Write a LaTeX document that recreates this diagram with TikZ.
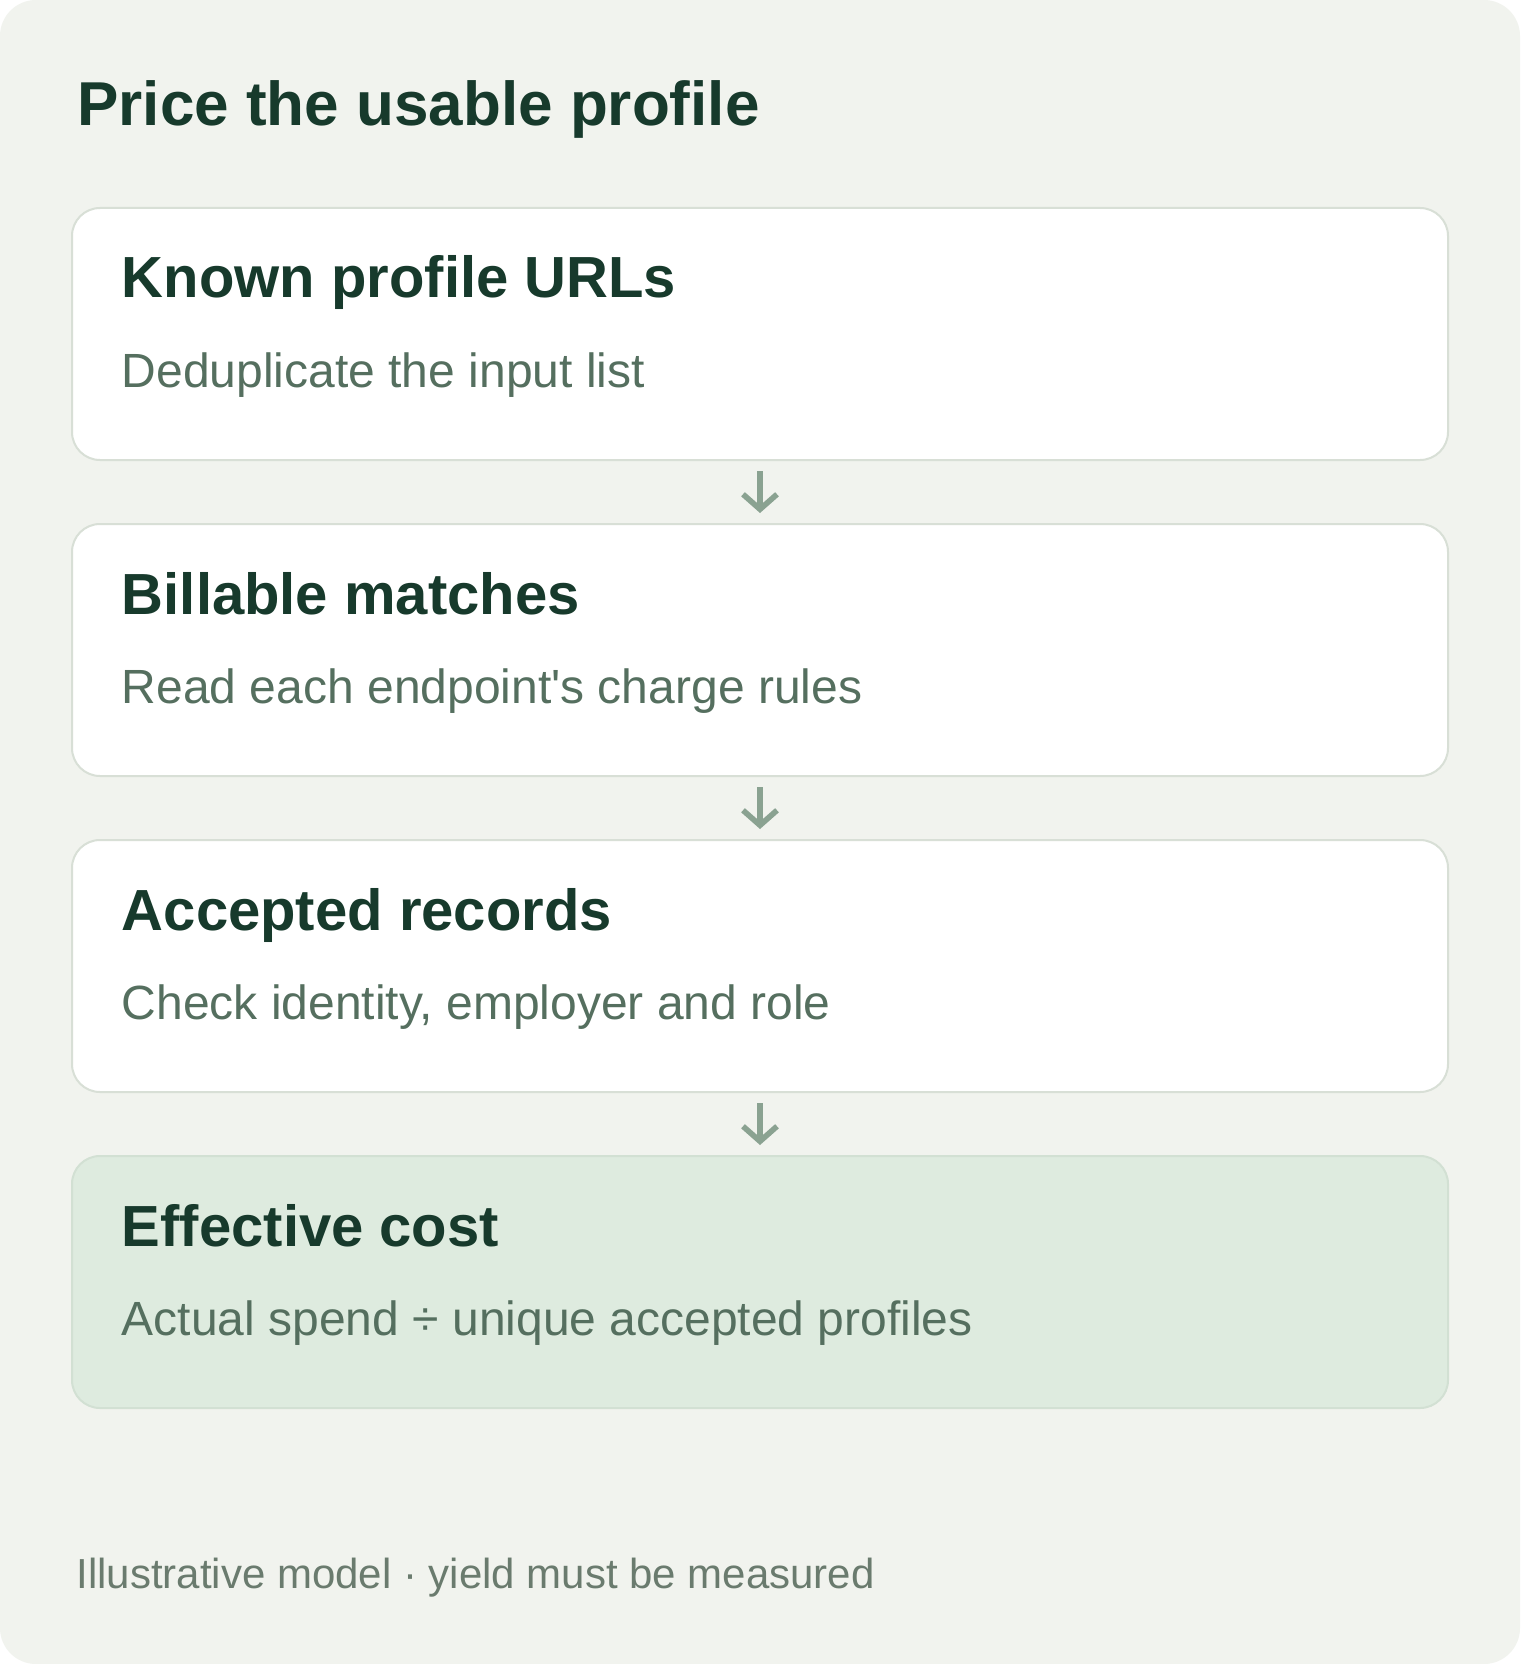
\documentclass[tikz,border=0pt]{standalone}
\usepackage{fontspec}
\setmainfont{Liberation Sans}
\usetikzlibrary{arrows.meta}

\definecolor{pagebg}{HTML}{F1F3EE}
\definecolor{ink}{HTML}{173A2C}
\definecolor{muted}{HTML}{556F5F}
\definecolor{footgray}{HTML}{6A7B6E}
\definecolor{edgegray}{HTML}{D8DFD6}
\definecolor{arrowgray}{HTML}{8AA291}
\definecolor{costfill}{HTML}{DEEBDF}
\definecolor{costedge}{HTML}{D2E0D3}

\tikzset{
  stepbox/.style={draw=edgegray, line width=1pt, fill=white, rounded corners=14pt,
    minimum width=688pt, minimum height=126pt, inner sep=0pt},
  costbox/.style={stepbox, draw=costedge, fill=costfill},
  head/.style={anchor=base west, inner sep=0pt, text=ink,
    font=\fontsize{29pt}{34pt}\selectfont\bfseries},
  desc/.style={anchor=base west, inner sep=0pt, text=muted,
    font=\fontsize{24pt}{29pt}\selectfont}
}

\begin{document}
\begin{tikzpicture}[x=0.5pt, y=-0.5pt]

        \fill[white] (0,0) rectangle (1520,1664);
        \fill[pagebg, rounded corners=18pt] (0,0) rectangle (1520,1664);
        \useasboundingbox (0,0) rectangle (1520,1664);

        \node[anchor=base west, inner sep=0pt, text=ink,
          font=\fontsize{31pt}{36pt}\selectfont\bfseries] (title) at (77,126) {Price the usable profile};

        \node[stepbox] (1) at (760,334)  {};
        \node[stepbox] (2) at (760,650)  {};
        \node[stepbox] (3) at (760,966)  {};
        \node[costbox] (4) at (760,1282) {};

        \node[head] (h1) at (121.5,298)  {Known profile URLs};
        \node[desc] (d1) at (121.5,387)  {Deduplicate the input list};
        \node[head] (h2) at (121.5,614)  {Billable matches};
        \node[desc] (d2) at (121.5,703)  {Read each endpoint\textquotesingle s charge rules};
        \node[head] (h3) at (121.5,930)  {Accepted records};
        \node[desc] (d3) at (121.5,1019) {Check identity, employer and role};
        \node[head] (h4) at (121.5,1246) {Effective cost};
        \node[desc] (d4) at (121.5,1335) {Actual spend ÷ unique accepted profiles};

        \begin{scope}[every edge/.style={draw=arrowgray, line width=2.8pt,
            shorten <=5pt, shorten >=5pt,
            -{Straight Barb[length=7.5pt, width=17pt, line width=2.8pt]}}]
          \path (1) edge (2);
          \path (2) edge (3);
          \path (3) edge (4);
        \end{scope}

        \node[anchor=base west, inner sep=0pt, text=footgray,
          font=\fontsize{21pt}{25pt}\selectfont] (note) at (76,1588) {Illustrative model · yield must be measured};

\end{tikzpicture}
\end{document}
